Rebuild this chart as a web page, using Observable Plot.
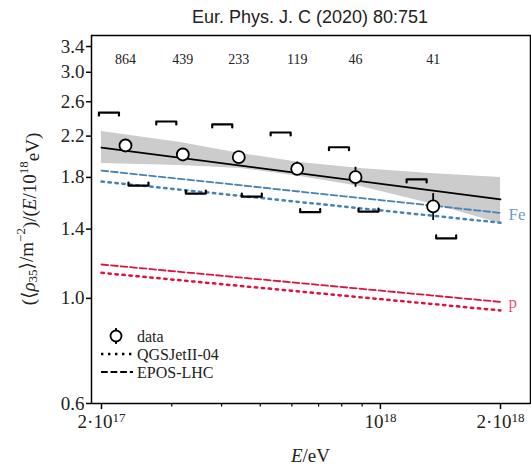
<!DOCTYPE html>
<html><head><meta charset="utf-8">
<script src="https://cdn.jsdelivr.net/npm/d3@7"></script>
<script src="https://cdn.jsdelivr.net/npm/@observablehq/plot@0.6"></script>
<style>body{margin:0;background:#fff} svg{display:block}</style>
</head><body><div id="chart"></div>
<script>
// ---- data ----
const E      = [2.297e17, 3.198e17, 4.417e17, 6.187e17, 8.663e17, 1.356e18];
const rho    = [2.102, 2.012, 1.986, 1.877, 1.802, 1.563];
const errLo  = [2.065, 1.975, 1.950, 1.817, 1.716, 1.460];
const errHi  = [2.140, 2.050, 2.022, 1.940, 1.891, 1.664];
const sysUp  = [2.467, 2.362, 2.328, 2.239, 2.084, 1.782];
const sysLow = [1.730, 1.664, 1.640, 1.520, 1.525, 1.338];
const counts = ["864", "439", "233", "119", "46", "41"];

const fitE = [2e17, 2e18];
const fitV = [2.081, 1.617];

const bandE  = [2e17, 3.16e17, 4.46e17, 6.3e17, 8.91e17, 1.335e18, 2e18];
const bandHi = [2.250, 2.133, 2.022, 1.935, 1.880, 1.834, 1.799];
const bandLo = [1.926, 1.907, 1.880, 1.808, 1.722, 1.586, 1.439];

const modelE = [2e17, 2e18];
const feEpos = [1.861, 1.515];
const feQgs  = [1.764, 1.444];
const pEpos  = [1.179, 0.983];
const pQgs   = [1.132, 0.943];

const yTicks = [0.6, 1.0, 1.4, 1.8, 2.2, 2.6, 3.0, 3.4];
const xMajor = [2e17, 1e18, 2e18];
const xMajorLabels = ["2·10^17", "10^18", "2·10^18"];
const xMinor = [3e17, 4e17, 5e17, 6e17, 7e17, 8e17, 9e17];

// ---- derived tables ----
const points = E.map((e, i) => ({E: e, v: rho[i], lo: errLo[i], hi: errHi[i]}));
const band = bandE.map((e, i) => ({E: e, lo: bandLo[i], hi: bandHi[i]}));
const fit = fitE.map((e, i) => ({E: e, v: fitV[i]}));
const model = (arr) => modelE.map((e, i) => ({E: e, v: arr[i]}));
const k = 1.0147; // bracket end-tick length factor (≈3px)
const brackets = [];
E.forEach((e, i) => {
  const uL = e * 0.858, uR = e * 0.963, lL = e * 1.0175, lR = e * 1.142;
  const u = sysUp[i], l = sysLow[i];
  brackets.push({id: "u" + i, E: uL, v: u / k}, {id: "u" + i, E: uL, v: u}, {id: "u" + i, E: uR, v: u}, {id: "u" + i, E: uR, v: u / k});
  brackets.push({id: "l" + i, E: lL, v: l * k}, {id: "l" + i, E: lL, v: l}, {id: "l" + i, E: lR, v: l}, {id: "l" + i, E: lR, v: l * k});
});
const xLabelOf = (d) => xMajorLabels[xMajor.findIndex(t => Math.abs(t - d) / t < 1e-6)];

const BLUE = "#4682b4", RED = "#dc143c";
const SERIF = "'Liberation Serif', 'DejaVu Serif', serif";
const DOT = "2.4,4.6", DASH = "6.7,2.9";

const chart = Plot.plot({
  width: 531, height: 467,
  marginLeft: 91, marginRight: 1, marginTop: 35, marginBottom: 64,
  style: {fontFamily: SERIF, fontSize: "19px", color: "#222", background: "#fff", overflow: "visible"},
  x: {type: "log", domain: [1.888e17, 2.378e18], label: null},
  y: {type: "log", domain: [0.6, 3.587], label: null},
  marks: [
    Plot.areaY(band, {x: "E", y1: "lo", y2: "hi", fill: "#cccccc", curve: "linear"}),
    Plot.line(model(pQgs), {x: "E", y: "v", stroke: RED, strokeWidth: 2.5, strokeDasharray: DOT}),
    Plot.line(model(pEpos), {x: "E", y: "v", stroke: RED, strokeWidth: 1.8, strokeDasharray: DASH}),
    Plot.line(model(feQgs), {x: "E", y: "v", stroke: BLUE, strokeWidth: 2.5, strokeDasharray: DOT}),
    Plot.line(model(feEpos), {x: "E", y: "v", stroke: BLUE, strokeWidth: 1.8, strokeDasharray: DASH}),
    Plot.line(fit, {x: "E", y: "v", stroke: "#000", strokeWidth: 1.8}),
    Plot.line(brackets, {x: "E", y: "v", z: "id", stroke: "#000", strokeWidth: 2.2}),
    Plot.ruleX(points, {x: "E", y1: "lo", y2: "hi", stroke: "#000", strokeWidth: 1.8}),
    Plot.dot(points, {x: "E", y: "v", r: 6, fill: "#fff", stroke: "#000", strokeWidth: 1.8}),
    Plot.text(counts, {x: (d, i) => E[i], frameAnchor: "top", dy: 19, fontSize: 14, fill: "#222"}),
    Plot.text(["Fe"], {x: modelE[1], y: feEpos[1], dx: 8, dy: 2, textAnchor: "start", fill: BLUE, fillOpacity: 0.8, fontSize: 17}),
    Plot.text(["p"], {x: modelE[1], y: pEpos[1], dx: 8, dy: 1, textAnchor: "start", fill: RED, fillOpacity: 0.75, fontSize: 17}),
    Plot.axisY({ticks: yTicks, tickFormat: d => d.toFixed(1), tickSize: 5, tickPadding: 2, fontSize: 19, label: null, stroke: "#000", strokeWidth: 1.5}),
    Plot.axisX({ticks: xMajor, tickFormat: xLabelOf, tickSize: 6, tickPadding: 5, fontSize: 19, label: null, stroke: "#000", strokeWidth: 1.5}),
    Plot.axisX({ticks: xMinor, tickFormat: () => "", tickSize: 3.5, label: null, stroke: "#000", strokeWidth: 1.2}),
    Plot.frame({stroke: "#000", strokeWidth: 1.5})
  ]
});
document.getElementById("chart").appendChild(chart);

const svg = d3.select(chart);
// superscripts in x tick labels
svg.selectAll("text").each(function () {
  const t = d3.select(this);
  const s = t.text();
  if (!s.includes("^")) return;
  const [base, exp] = s.split("^");
  t.text(null);
  t.append("tspan").text(base);
  t.append("tspan").attr("dy", "-0.45em").attr("font-size", "13px").text(exp);
});

// title
svg.append("text").attr("x", 310).attr("y", 17).attr("text-anchor", "middle").attr("dominant-baseline", "central")
  .attr("font-family", "'Liberation Sans', Arial, sans-serif").attr("font-size", 18).attr("fill", "#222")
  .text("Eur. Phys. J. C (2020) 80:751");

// x label
const xl = svg.append("text").attr("x", 310.5).attr("y", 462).attr("text-anchor", "middle")
  .attr("font-family", SERIF).attr("font-size", 19).attr("fill", "#222");
xl.append("tspan").attr("font-style", "italic").text("E");
xl.append("tspan").text("/eV");

// y label
const yl = svg.append("text").attr("transform", "translate(28,219) rotate(-90)").attr("text-anchor", "middle")
  .attr("font-family", SERIF).attr("font-size", 19).attr("fill", "#222").attr("dominant-baseline", "central");
yl.append("tspan").text("(⟨");
yl.append("tspan").attr("font-style", "italic").text("ρ");
yl.append("tspan").attr("font-size", 13).attr("dy", "0.3em").text("35");
yl.append("tspan").attr("dy", "-0.3em").text("⟩/m");
yl.append("tspan").attr("font-size", 13).attr("dy", "-0.45em").text("−2");
yl.append("tspan").attr("dy", "0.45em").text(")/(");
yl.append("tspan").attr("font-style", "italic").text("E");
yl.append("tspan").text("/10");
yl.append("tspan").attr("font-size", 13).attr("dy", "-0.45em").text("18");
yl.append("tspan").attr("dy", "0.45em").text("eV)");

// legend
const lg = svg.append("g").attr("font-family", SERIF).attr("font-size", 16).attr("fill", "#222").attr("text-anchor", "start");
lg.append("line").attr("x1", 116).attr("x2", 116).attr("y1", 328).attr("y2", 344).attr("stroke", "#000").attr("stroke-width", 1.8);
lg.append("circle").attr("cx", 116).attr("cy", 336).attr("r", 5.5).attr("fill", "#fff").attr("stroke", "#000").attr("stroke-width", 1.8);
lg.append("text").attr("x", 137).attr("y", 336).attr("dominant-baseline", "central").text("data");
lg.append("line").attr("x1", 101).attr("x2", 133).attr("y1", 354).attr("y2", 354).attr("stroke", "#000").attr("stroke-width", 2.5).attr("stroke-dasharray", DOT);
lg.append("text").attr("x", 137).attr("y", 354).attr("dominant-baseline", "central").text("QGSJetII-04");
lg.append("line").attr("x1", 101).attr("x2", 133).attr("y1", 372).attr("y2", 372).attr("stroke", "#000").attr("stroke-width", 1.8).attr("stroke-dasharray", DASH);
lg.append("text").attr("x", 137).attr("y", 372).attr("dominant-baseline", "central").text("EPOS-LHC");
</script>
</body></html>
